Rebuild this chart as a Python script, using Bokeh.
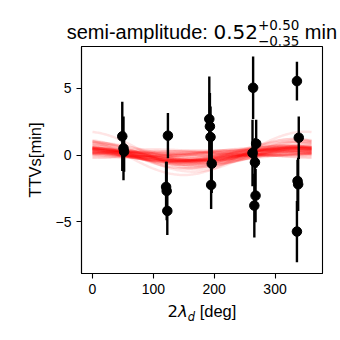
import numpy as np
from bokeh.plotting import figure
from bokeh.models import ColumnDataSource, Range1d, FixedTicker, Div
from bokeh.layouts import column
from bokeh.embed import file_html
from bokeh.resources import INLINE

# observed TTVs
lam2_deg = [49, 51, 52, 124, 121, 122, 123, 192, 193, 194, 196, 195,
            264, 269, 263, 267, 268, 266, 336, 339, 337, 338, 336]
ttv_min = [1.4, 0.5, 0.25, 1.45, -2.4, -2.7, -4.2, 2.7, 2.15, 1.35, -0.65, -2.25,
           5.05, 0.85, 0.15, -0.55, -3.05, -3.8, 5.55, 1.3, -1.95, -2.2, -5.75]
ttv_err = [2.6, 2.4, 1.5, 1.7, 1.9, 2.2, 1.8, 3.2, 2.5, 2.3, 2.2, 1.8,
           2.35, 1.8, 2.5, 1.8, 2.0, 2.4, 1.45, 1.6, 1.6, 2.0, 2.3]

# posterior model curves (semi-amplitude [min], peak angle [deg], offset [min])
curve_amp = [1.40, 1.35, 1.10, 0.95, 0.85, 1.20, 0.80, 1.00, 0.90, 0.82,
             0.30, 0.15, 0.45, 0.22, 0.38, 0.12, 0.50, 0.28, 0.35, 0.18,
             0.42, 0.25, 0.33, 0.10, 0.47, 0.20, 0.40, 0.27, 0.14, 0.36,
             0.44, 0.23, 0.31, 0.17, 0.48, 0.26, 0.39, 0.13, 0.34, 0.21,
             0.55, 0.62, 0.48, 0.70, 0.58, 0.52, 0.66, 0.45, 0.60, 0.50,
             0.57, 0.64, 0.53, 0.68, 0.47, 0.59, 0.61, 0.49, 0.56, 0.72]
curve_peak = [350, 330, 330, 355, 320, 345, 10, 335, 350, 0,
              300, 60, 20, 250, 340, 150, 310, 10, 280, 200,
              350, 100, 320, 40, 330, 270, 0, 180, 90, 300,
              345, 230, 30, 120, 315, 290, 355, 70, 260, 20,
              340, 320, 355, 330, 310, 345, 5, 325, 335, 300,
              350, 315, 340, 20, 330, 345, 305, 0, 325, 335]
curve_off = [0.35, -0.15, 0.10, 0.05, 0.15, -0.05, 0.10, 0.00, 0.12, -0.02,
             0.10, 0.05, 0.00, 0.15, -0.05, 0.12, 0.02, 0.08, 0.20, -0.02,
             0.06, 0.18, -0.08, 0.10, 0.04, 0.14, -0.04, 0.09, 0.16, 0.01,
             0.07, 0.11, -0.06, 0.13, 0.03, 0.17, -0.01, 0.05, 0.12, 0.08,
             0.05, 0.10, 0.00, -0.05, 0.08, 0.12, -0.02, 0.06, 0.03, 0.10,
             -0.04, 0.07, 0.02, 0.09, 0.04, -0.01, 0.11, 0.05, 0.00, -0.03]

x_ticks = [0, 100, 200, 300]
y_ticks = [-5, 0, 5]

W = 340
TITLE_H, PLOT_H, XLAB_H = 45, 255, 40

p = figure(width=W, height=PLOT_H, output_backend="svg", toolbar_location=None,
           title=None,
           x_range=Range1d(-18, 378), y_range=Range1d(-8.9, 8.15),
           min_border_left=81, min_border_right=18,
           min_border_top=1, min_border_bottom=27)
p.grid.visible = False
p.outline_line_color = "black"
p.outline_line_width = 1.1
p.background_fill_color = "white"
p.border_fill_color = "white"

grid = np.linspace(0, 360, 181)
xs, ys = [], []
for a, pk, o in zip(curve_amp, curve_peak, curve_off):
    xs.append(grid)
    ys.append(o + a * np.cos(np.deg2rad(grid - pk)))
p.multi_line(xs, ys, line_color="#ff0000", line_alpha=0.1, line_width=2.5)

src = ColumnDataSource(dict(
    x=lam2_deg, y=ttv_min,
    lo=[v - e for v, e in zip(ttv_min, ttv_err)],
    hi=[v + e for v, e in zip(ttv_min, ttv_err)]))
p.segment(x0="x", y0="lo", x1="x", y1="hi", source=src,
          line_color="black", line_width=2.4)
p.scatter("x", "y", source=src, size=9.5, fill_color="black", line_color="black")

for ax in (p.xaxis[0], p.yaxis[0]):
    ax.axis_line_color = "black"
    ax.axis_line_width = 1.1
    ax.major_tick_line_color = "black"
    ax.major_tick_line_width = 1.1
    ax.major_tick_out = 5
    ax.major_tick_in = 0
    ax.minor_tick_line_color = None
    ax.major_label_text_font = "Liberation Sans"
    ax.major_label_text_font_size = "14px"
    ax.major_label_text_color = "black"

p.xaxis[0].ticker = FixedTicker(ticks=x_ticks)
p.yaxis[0].ticker = FixedTicker(ticks=y_ticks)
p.yaxis[0].major_label_overrides = {-5: "\u22125"}
p.xaxis[0].major_label_standoff = 5
p.yaxis[0].major_label_standoff = 5

p.yaxis[0].axis_label = "TTVs[min]"
p.yaxis[0].axis_label_text_font = "Liberation Sans"
p.yaxis[0].axis_label_text_font_size = "16.5px"
p.yaxis[0].axis_label_text_font_style = "normal"
p.yaxis[0].axis_label_text_color = "black"
p.yaxis[0].axis_label_standoff = 9

title_html = (
    '<div style="padding-left:66.7px;padding-top:18px;line-height:20px;'
    'white-space:nowrap;color:black;">'
    '<span style="font-family:\'Liberation Sans\';font-size:20px;">semi-amplitude: </span>'
    '<span style="font-family:\'DejaVu Sans\';font-size:20px;">0.52</span>'
    '<span style="display:inline-block;vertical-align:-6.5px;'
    'font-family:\'DejaVu Sans\';font-size:13.5px;line-height:15.8px;">'
    '<span style="display:block;">+0.50</span>'
    '<span style="display:block;">\u22120.35</span></span>'
    '<span style="font-family:\'Liberation Sans\';font-size:20px;"> min</span>'
    '</div>'
)
xlabel_html = (
    '<div style="padding-left:167.5px;padding-top:1.3px;line-height:20px;'
    'white-space:nowrap;color:black;font-size:16.5px;">'
    '<span style="font-family:\'DejaVu Sans\';">2</span>'
    '<span style="font-family:\'DejaVu Sans\';font-style:italic;">\u03bb</span>'
    '<span style="font-family:\'DejaVu Sans\';font-style:italic;font-size:11.5px;'
    'vertical-align:-3.5px;">d</span>'
    '<span style="font-family:\'Liberation Sans\';"> [deg]</span>'
    '</div>'
)

title_div = Div(text=title_html, width=W, height=TITLE_H, margin=0)
xlabel_div = Div(text=xlabel_html, width=W, height=XLAB_H, margin=0)

layout = column(title_div, p, xlabel_div, spacing=0, margin=0)

open("out.html", "w").write(file_html(layout, INLINE))
